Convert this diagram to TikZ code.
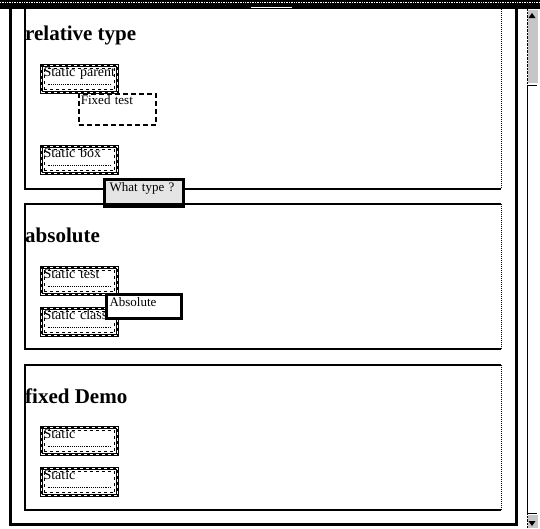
\documentclass[tikz,border=0pt]{standalone}
\usepackage{fontspec}
\setmainfont{Liberation Serif}

\begin{document}
\begin{tikzpicture}[x=1pt,y=-1pt,
	heading/.style={anchor=base west,inner sep=0,font=\fontsize{21}{24}\selectfont\bfseries},
	frame/.style={line width=3pt},
	sect/.style={line width=2pt},
	sectside/.style={line width=1pt,densely dotted},
	statbox/.style={draw,fill=white,line width=3pt,anchor=north west,minimum width=76pt,minimum height=27pt,
		inner sep=1pt,text width=72pt,align=left,text height=10pt,text depth=15pt,font=\fontsize{14}{15}\selectfont,
		postaction={draw=white,line width=0.8pt,dash pattern=on 3pt off 3pt},
		path picture={
			\draw[densely dotted,line width=0.9pt] ([xshift=6pt,yshift=8pt]path picture bounding box.south west) -- ([xshift=-6pt,yshift=8pt]path picture bounding box.south east);
			\draw[dashed,line width=0.7pt] ([shift={(3pt,3pt)}]path picture bounding box.south west) rectangle ([shift={(-3pt,-3pt)}]path picture bounding box.north east);
		}},
	fixbox/.style={draw,line width=1.8pt,dash pattern=on 5pt off 3pt,anchor=north west,minimum width=77pt,minimum height=31pt,
		inner sep=1pt,text width=73pt,align=left,text height=10pt,text depth=19pt,font=\fontsize{13}{14}\selectfont},
	absbox/.style={draw,fill=white,line width=3pt,anchor=north west,minimum width=75pt,minimum height=24pt,
		inner sep=2pt,text width=69pt,align=left,text height=10pt,text depth=10pt,font=\fontsize{13}{14}\selectfont}]
	\useasboundingbox (0,0) rectangle (540,528);
	% window top bar
	\fill (0,0) rectangle (540,9);
	\draw[white,line width=0.7pt,densely dotted] (0,2) -- (540,2);
	\draw[white,line width=0.8pt] (251,7) -- (292,7);
	% outer frame
	\draw[frame] (10,9) -- (10,524) -- (516,524) -- (516,9);
	% scrollbar
	\draw[densely dotted] (527,9) -- (527,528);
	\fill[gray!45] (527.5,10) rectangle (538,83);
	\fill (532,13) -- (528.5,18) -- (535.5,18) -- cycle;
	\draw[line width=0.8pt] (537,85) -- (527.5,85) -- (527.5,513) -- (537,513);
	\fill[gray!45] (527.5,515) rectangle (538,528);
	\fill (532,526) -- (528.5,521) -- (535.5,521) -- cycle;
	% relative type
	\draw[sect] (25,9) -- (25,189) -- (501,189);
	\draw[sectside] (501,9) -- (501,189);
	\node[heading] (rel) at (25,40) {relative type};
	\node[statbox] (parent) at (40,64) {Static parent};
	\node[fixbox] (fixed) at (78,93) {Fixed test};
	\node[statbox] (box) at (40,145) {Static box};
	\node[absbox,fill=gray!20,minimum width=79pt,minimum height=27pt,text depth=13pt] (type) at (103,178) {What type ?};
	% absolute
	\draw[sect] (501,204) -- (25,204) -- (25,349) -- (501,349);
	\draw[sectside] (501,204) -- (501,349);
	\node[heading] (abs) at (25,242) {absolute};
	\node[statbox] (test) at (40,266) {Static test};
	\node[statbox] (class) at (40,307) {Static class};
	\node[absbox] (absol) at (105,293) {Absolute};
	% fixed Demo
	\draw[sect] (501,365) -- (25,365) -- (25,510) -- (501,510);
	\draw[sectside] (501,365) -- (501,510);
	\node[heading] (demo) at (25,403) {fixed Demo};
	\node[statbox] (demoa) at (40,426) {Static};
	\node[statbox] (demob) at (40,467) {Static};
\end{tikzpicture}
\end{document}
